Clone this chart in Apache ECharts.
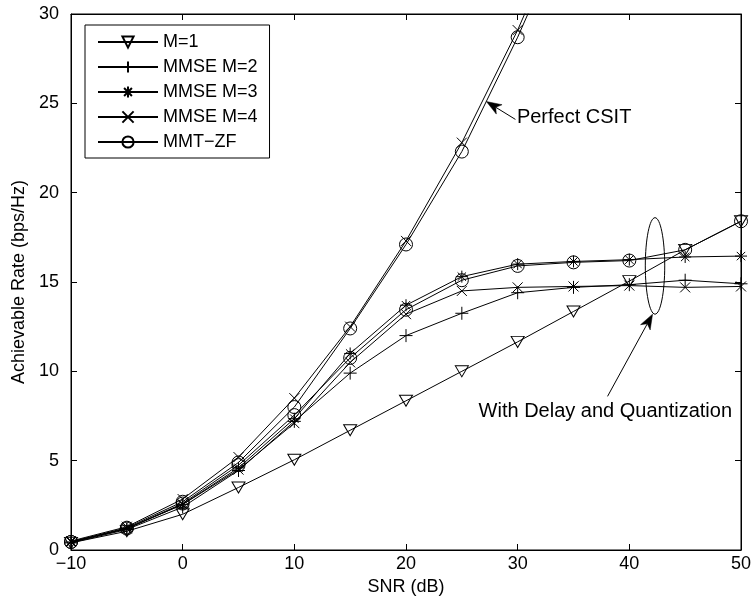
<!DOCTYPE html>
<html>
<head>
<meta charset="utf-8">
<script src="https://cdn.jsdelivr.net/npm/echarts@6/dist/echarts.min.js"></script>
<style>html,body{margin:0;padding:0;background:#fff;}#c{width:756px;height:603px;}</style>
</head>
<body>
<div id="c"></div>
<script>
// ---- data ----
const snr = [-10, -5, 0, 5, 10, 15, 20, 25, 30, 35, 40, 45, 50];
const xTicks = [-10, 0, 10, 20, 30, 40, 50];
const yTicks = [0, 5, 10, 15, 20, 25, 30];
const legendNames = ['M=1', 'MMSE M=2', 'MMSE M=3', 'MMSE M=4', 'MMT\u2212ZF'];

// with delay and quantization
const m1 = [0.4, 1.05, 2.0, 3.5, 5.05, 6.7, 8.35, 10.0, 11.65, 13.35, 15.05, 16.8, 18.4];
const mmse2Delay = [0.4, 1.15, 2.4, 4.45, 7.2, 9.9, 12.0, 13.25, 14.4, 14.7, 14.85, 15.1, 14.9];
const mmse3Delay = [0.45, 1.2, 2.55, 4.6, 7.35, 11.0, 13.7, 15.3, 16.0, 16.15, 16.25, 16.4, 16.45];
const mmse4Delay = [0.45, 1.2, 2.55, 4.5, 7.1, 10.5, 13.2, 14.5, 14.7, 14.75, 14.8, 14.7, 14.75];
const mmtzfDelay = [0.45, 1.2, 2.6, 4.75, 7.55, 10.75, 13.45, 15.1, 15.9, 16.1, 16.2, 16.8, 18.4];
// perfect CSIT
const mmse4Perfect = [0.5, 1.3, 2.85, 5.2, 8.5, 12.5, 17.3, 22.8, 29.1, 36.3];
const mmtzfPerfect = [0.45, 1.25, 2.7, 4.9, 8.0, 12.4, 17.1, 22.3, 28.7, 35.8];

// annotations (data coordinates)
const perfectLabel = {text: 'Perfect CSIT', at: [29.93, 24.2], tail: [29.8, 24.1], tip: [27.2, 25.1]};
const delayLabel = {text: 'With Delay and Quantization', at: [26.5, 7.75], tail: [38.05, 8.6], tip: [42.08, 13.2]};
const ellipseSpec = {center: [42.3, 15.9], rx: 0.87, ry: 2.7};

// ---- chart ----
const FONT = 'Liberation Sans, Arial, Helvetica, sans-serif';
const sym = {
  tri: 'path://M0,0 L20,0 L10,17.3 Z',
  plus: 'path://M10,0 L10,20 M0,10 L20,10',
  star: 'path://M10,0 L10,20 M0,10 L20,10 M3,3 L17,17 M17,3 L3,17',
  cross: 'path://M0,0 L20,20 M20,0 L0,20',
  circ: 'circle'
};
function pairs(ys) { return ys.map((v, i) => [snr[i], v]); }
function mk(name, ys, symbol, size) {
  return {
    name: name, type: 'line', data: pairs(ys), symbol: symbol, symbolSize: size,
    showSymbol: true, clip: true, animation: false, z: 3,
    lineStyle: {color: '#000', width: 1},
    itemStyle: {color: 'rgba(0,0,0,0)', borderColor: '#000', borderWidth: 1},
    emphasis: {disabled: true}
  };
}
const series = [
  mk(legendNames[0], m1, sym.tri, [13, 11]),
  mk(legendNames[1], mmse2Delay, sym.plus, 13),
  mk(legendNames[2], mmse3Delay, sym.star, 12),
  mk(legendNames[3], mmse4Delay, sym.cross, 10),
  mk(legendNames[4], mmtzfDelay, sym.circ, 13),
  mk(legendNames[3], mmse4Perfect, sym.cross, 10),
  mk(legendNames[4], mmtzfPerfect, sym.circ, 13)
];

const chart = echarts.init(document.getElementById('c'), null, {renderer: 'canvas'});
const axisCommon = {
  axisLine: {show: true, onZero: false, lineStyle: {color: '#000', width: 1}},
  axisTick: {show: true, inside: true, length: 6, lineStyle: {color: '#000'}},
  splitLine: {show: false}
};
chart.setOption({
  animation: false,
  backgroundColor: '#fff',
  grid: {left: 71, right: 15, top: 14, bottom: 53, show: true, borderColor: '#000', borderWidth: 1, containLabel: false},
  legend: {
    data: legendNames, orient: 'vertical', left: 85, top: 25,
    itemWidth: 60, itemHeight: 14, itemGap: 7,
    padding: [8, 12, 7, 12],
    backgroundColor: '#fff', borderColor: '#000', borderWidth: 1,
    textStyle: {fontFamily: FONT, fontSize: 18, color: '#000', lineHeight: 18},
    selectedMode: false
  },
  xAxis: [
    Object.assign({type: 'value', min: -10, max: 50, interval: 10, position: 'bottom',
      name: 'SNR (dB)', nameLocation: 'middle', nameGap: 27,
      nameTextStyle: {fontFamily: FONT, fontSize: 18, color: '#000'},
      axisLabel: {fontFamily: FONT, fontSize: 18, color: '#000', margin: 5,
        formatter: v => (v < 0 ? '\u2212' + Math.abs(v) : String(v))}}, axisCommon),
    Object.assign({type: 'value', min: -10, max: 50, interval: 10, position: 'top',
      axisLabel: {show: false}}, axisCommon)
  ],
  yAxis: [
    Object.assign({type: 'value', min: 0, max: 30, interval: 5, position: 'left',
      name: 'Achievable Rate (bps/Hz)', nameLocation: 'middle', nameGap: 43,
      nameTextStyle: {fontFamily: FONT, fontSize: 18, color: '#000'},
      axisLabel: {fontFamily: FONT, fontSize: 18, color: '#000', margin: 12}}, axisCommon),
    Object.assign({type: 'value', min: 0, max: 30, interval: 5, position: 'right',
      axisLabel: {show: false}}, axisCommon)
  ],
  series: series
});

// annotations placed through the axes' scales
function px(p) { return chart.convertToPixel({xAxisIndex: 0, yAxisIndex: 0}, p); }
function arrow(tailD, tipD) {
  const a = px(tailD), b = px(tipD);
  const dx = b[0] - a[0], dy = b[1] - a[1];
  const L = Math.hypot(dx, dy), ux = dx / L, uy = dy / L;
  const nx = -uy, ny = ux;
  const hl = 15, hw = 5.5, notch = 11;
  const back = [b[0] - ux * hl, b[1] - uy * hl];
  const n = [b[0] - ux * notch, b[1] - uy * notch];
  return [
    {type: 'line', shape: {x1: a[0], y1: a[1], x2: n[0], y2: n[1]}, style: {stroke: '#000', lineWidth: 1}, z: 10},
    {type: 'polygon', shape: {points: [b, [back[0] + nx * hw, back[1] + ny * hw], n, [back[0] - nx * hw, back[1] - ny * hw]]},
      style: {fill: '#000', stroke: '#000', lineWidth: 0.5}, z: 10}
  ];
}
function label(spec) {
  const p = px(spec.at);
  return {type: 'text', x: p[0], y: p[1], z: 10,
    style: {text: spec.text, fill: '#000', font: '20px ' + FONT, textAlign: 'left', textVerticalAlign: 'middle'}};
}
const ec = px(ellipseSpec.center);
const ex = px([ellipseSpec.center[0] + ellipseSpec.rx, ellipseSpec.center[1]]);
const ey = px([ellipseSpec.center[0], ellipseSpec.center[1] + ellipseSpec.ry]);
chart.setOption({
  graphic: [
    label(perfectLabel),
    label(delayLabel),
    ...arrow(perfectLabel.tail, perfectLabel.tip),
    ...arrow(delayLabel.tail, delayLabel.tip),
    {type: 'ellipse', z: 10, shape: {cx: ec[0], cy: ec[1], rx: Math.abs(ex[0] - ec[0]), ry: Math.abs(ey[1] - ec[1])},
      style: {fill: 'none', stroke: '#000', lineWidth: 1}}
  ]
});
</script>
</body>
</html>
